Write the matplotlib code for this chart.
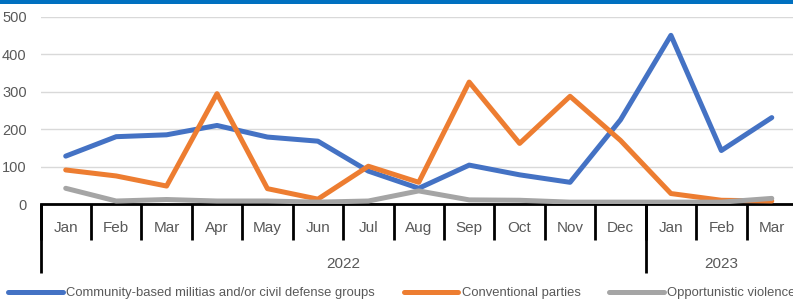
import matplotlib
matplotlib.use("Agg")
import matplotlib.pyplot as plt
from matplotlib import font_manager
from matplotlib.lines import Line2D

months = ["Jan", "Feb", "Mar", "Apr", "May", "Jun", "Jul", "Aug", "Sep", "Oct", "Nov", "Dec",
          "Jan", "Feb", "Mar"]
years = ["2022", "2023"]
year_counts = [12, 3]
community = [128, 180, 185, 210, 179, 168, 88, 42, 104, 78, 58, 225, 451, 143, 231]
conventional = [91, 75, 48, 295, 41, 13, 101, 58, 326, 162, 288, 170, 28, 10, 8]
opportunistic = [42, 8, 12, 8, 8, 5, 8, 35, 11, 10, 5, 5, 5, 5, 15]
series_names = ["Community-based militias and/or civil defense groups",
                "Conventional parties", "Opportunistic violence"]
colors = ["#4472C4", "#ED7D31", "#A5A5A5"]

names = {f.name for f in font_manager.fontManager.ttflist}
base_font = "Liberation Sans" if "Liberation Sans" in names else "DejaVu Sans"
plt.rcParams['font.family'] = [base_font, 'DejaVu Sans']

W, H = 793, 305
fig = plt.figure(figsize=(W / 100, H / 100), dpi=100)
left = 40.5 / W
right = 797 / W
bottom = (H - 204) / H
top = (H - 17) / H
ax = fig.add_axes([left, bottom, right - left, top - bottom])

x = list(range(len(months)))
for vals, c in zip([community, conventional, opportunistic], colors):
    ax.plot(x, vals, color=c, lw=3.6, solid_capstyle='round', solid_joinstyle='round', zorder=3)

ax.set_xlim(-0.5, len(months) - 0.5)
ax.set_ylim(0, 500)
ax.set_yticks([0, 100, 200, 300, 400, 500])
ax.yaxis.grid(True, color="#D9D9D9", lw=1.0)
ax.set_axisbelow(True)
ax.tick_params(axis='y', length=0, pad=10, labelsize=10.5, labelcolor="#595959")

for s in ['top', 'right', 'left']:
    ax.spines[s].set_visible(False)
ax.spines['bottom'].set_color('black')
ax.spines['bottom'].set_linewidth(2)
ax.spines['bottom'].set_zorder(2)

# month dividers (major ticks) and month labels (minor ticks)
bounds = [i - 0.5 for i in range(len(months) + 1)]
ax.set_xticks(bounds)
ax.set_xticklabels([])
ax.tick_params(axis='x', which='major', length=26, width=2, color='black', direction='out')
ax.set_xticks(x, minor=True)
ax.set_xticklabels(months, minor=True)
ax.tick_params(axis='x', which='minor', length=0, pad=12, labelsize=11, labelcolor="#595959")

# year level
sec = ax.secondary_xaxis('bottom')
ybounds = [-0.5]
centers = []
start = -0.5
for n in year_counts:
    centers.append(start + n / 2)
    start += n
    ybounds.append(start)
sec.set_xticks(ybounds[:-1])
sec.set_xticklabels([])
sec.tick_params(axis='x', which='major', length=50, width=2, color='black', direction='out')
sec.set_xticks(centers, minor=True)
sec.set_xticklabels(years, minor=True)
sec.tick_params(axis='x', which='minor', length=0, pad=38, labelsize=11, labelcolor="#595959")
sec.spines['bottom'].set_visible(False)

# top blue bar
fig.add_artist(plt.Rectangle((0, (H - 3.5) / H), 1, 3.5 / H, transform=fig.transFigure,
                             color="#0070C0", lw=0))

handles = [Line2D([], [], color=c, lw=3.6, solid_capstyle='round') for c in colors]
leg = fig.legend(handles, series_names, loc='center left', bbox_to_anchor=(8 / W, (H - 293) / H),
                 ncol=3, frameon=False, borderpad=0, borderaxespad=0,
                 handlelength=4.2, handletextpad=0.25, columnspacing=2.2,
                 prop={'size': 9.4})
for t in leg.get_texts():
    t.set_color("#595959")

fig.savefig("out.png", dpi=100)
